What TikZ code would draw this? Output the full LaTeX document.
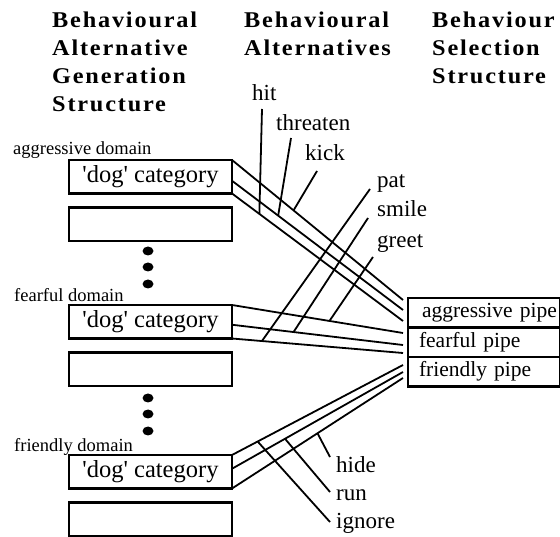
\documentclass[tikz,border=0pt]{standalone}
\usepackage{fontspec}
\setmainfont{Liberation Serif}
\newfontfamily\headfont[LetterSpace=8,FakeStretch=1.08]{Liberation Serif}
\usetikzlibrary{positioning,calc}

\tikzset{
  catbox/.style={draw, line width=2.4pt, minimum width=163pt, minimum height=33.5pt,
    inner sep=0pt, outer sep=0pt, font=\fontsize{24.5}{26}\selectfont},
  pipebox/.style={draw, line width=2.4pt, text width=148pt, inner xsep=2pt, inner ysep=0pt,
    minimum height=29.5pt, outer sep=0pt, align=left, font=\fontsize{21.5}{24}\selectfont},
  domlabel/.style={anchor=base west, inner sep=0pt, font=\fontsize{18.5}{20}\selectfont},
  heading/.style={anchor=north west, inner sep=0pt, align=left,
    font=\headfont\bfseries\fontsize{22.5}{28}\selectfont},
  altlabel/.style={anchor=base west, inner sep=0pt, font=\fontsize{23}{25}\selectfont},
  pipeline/.style={line width=1.8pt},
}

\begin{document}
\begin{tikzpicture}[x=1pt,y=-1pt]
\useasboundingbox (0,0) rectangle (560,537);

% column headings
\node[heading] (genhead) at (52,12) {Behavioural\\Alternative\\Generation\\Structure};
\node[heading] (althead) at (244,12) {Behavioural\\Alternatives};
\node[heading] (selhead) at (432,12) {Behaviour\\Selection\\Structure};

% domains, each with its 'dog' category and an empty box below
\node[domlabel] (aggdom) at (13,155) {aggressive domain};
\node[catbox, anchor=north west] (agg) at (69,160) {\textquotesingle dog\textquotesingle{} category};
\node[catbox, below=14pt of agg] (aggE) {};
\node[domlabel] (feardom) at (14,302) {fearful domain};
\node[catbox, anchor=north west] (fear) at (69,305) {\textquotesingle dog\textquotesingle{} category};
\node[catbox, below=14pt of fear] (fearE) {};
\node[domlabel] (fridom) at (14,451) {friendly domain};
\node[catbox, anchor=north west] (fri) at (69,455) {\textquotesingle dog\textquotesingle{} category};
\node[catbox, below=14pt of fri] (friE) {};

\foreach \y in {251,267,284,398,414,431} % edit here for the dots
\fill (148,\y) ellipse (5.5pt and 4.5pt);

% selection pipes
\node[pipebox, anchor=north west] (aggpipe) at (408,298) {\hspace*{12pt}aggressive pipe};
\node[pipebox, below=0pt of aggpipe] (fearpipe) {\hspace*{9pt}fearful pipe};
\node[pipebox, below=0pt of fearpipe] (fripipe) {\hspace*{9pt}friendly pipe};

% where the alternatives leave the categories and meet the pipes
\coordinate (ag2s) at ([yshift=-4pt]agg.east);
\coordinate (fe2s) at ([yshift=-3pt]fear.east);
\coordinate (fr2s) at ([yshift=3pt]fri.east);
\coordinate (ag1) at (403,300); \coordinate (ag2) at (403,310); \coordinate (ag3) at (403,321);
\coordinate (fe1) at (403,333); \coordinate (fe2) at (403,345); \coordinate (fe3) at (403,353);
\coordinate (fr1) at (403,365); \coordinate (fr2) at (403,372); \coordinate (fr3) at (403,378);

\draw[pipeline] (agg.north east) -- (ag1);
\draw[pipeline] (ag2s) -- (ag2);
\draw[pipeline] (agg.south east) -- (ag3);
\draw[pipeline] (fear.north east) -- (fe1);
\draw[pipeline] (fe2s) -- (fe2);
\draw[pipeline] (fear.south east) -- (fe3);
\draw[pipeline] (fri.north east) -- (fr1);
\draw[pipeline] (fr2s) -- (fr2);
\draw[pipeline] (fri.south east) -- (fr3);

% edit here for the alternatives: name/x/baseline/line start/line it joins/where
\foreach \lab/\x/\y/\sx/\sy/\from/\to/\t in {
  hit/252/101/262/109/agg.south east/ag3/0.16,
  threaten/276/131/291/138/ag2s/ag2/0.27,
  kick/305/161/317/171/agg.north east/ag1/0.36,
  pat/377/188/370/189/fear.south east/fe3/0.175,
  smile/377/217/368/218/fe2s/fe2/0.36,
  greet/377/248/373/257/fear.north east/fe1/0.57,
  hide/336/472/330/457/fri.south east/fr3/0.5,
  run/336/500/330/492/fr2s/fr2/0.31,
  ignore/336/528/330/522/fri.north east/fr1/0.15}
{
  \node[altlabel] (\lab) at (\x,\y) {\lab};
  \coordinate (\lab top) at (\sx,\sy);
  \draw[pipeline] (\lab top) -- ($(\from)!\t!(\to)$);
}
\end{tikzpicture}
\end{document}
